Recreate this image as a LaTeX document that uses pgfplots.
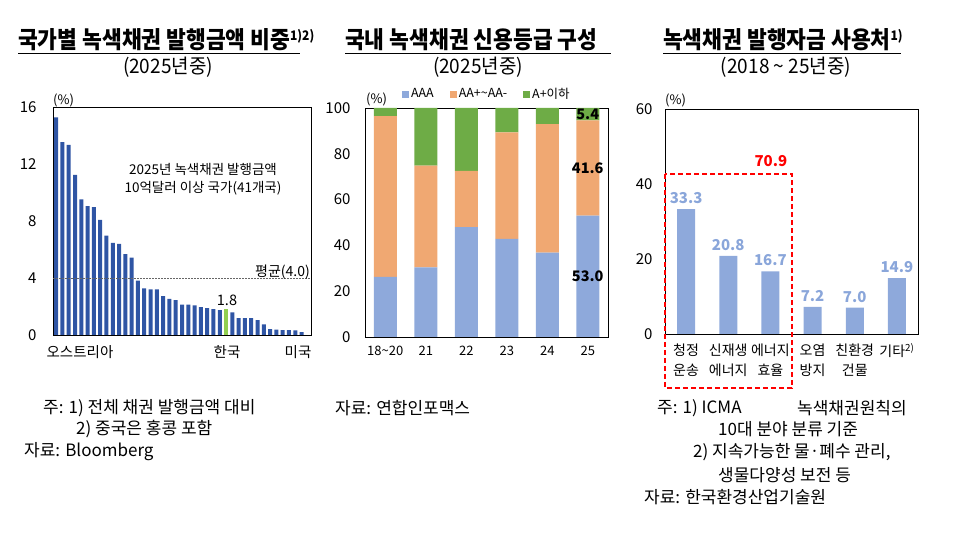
\documentclass[border=0pt]{standalone}
\usepackage{fontspec}
\setmainfont{Noto Sans CJK KR}
\usepackage{pgfplots}
\pgfplotsset{compat=1.18}
\pgfplotsset{/pgf/number format/assume math mode=true}
\definecolor{navy}{HTML}{2F55A4}
\definecolor{kgreen}{HTML}{92D050}
\definecolor{aaa}{HTML}{8EA9DB}
\definecolor{aa}{HTML}{F0A872}
\definecolor{ag}{HTML}{6EAC46}
\definecolor{lbl}{HTML}{8AA6DA}
\newcommand{\fs}[1]{\fontsize{#1}{#1}\selectfont}
\begin{document}
\begin{tikzpicture}[x=1pt,y=1pt]
\useasboundingbox (0pt,0pt) rectangle (953pt,545pt);
% ---------------- Panel 1 ----------------
\begin{axis}[at={(53pt,210pt)}, anchor=south west, scale only axis,
  width=258pt, height=228pt,
  xmin=0.5, xmax=41.5, ymin=0, ymax=16,
  ytick={0,4,8,12,16}, xtick=\empty,
  major tick length=0pt,
  axis line style={line width=0.8pt},
  yticklabel style={font=\fs{15}, xshift=-13pt},
  clip=false]
\addplot[ybar, bar width=4pt, bar shift=0pt, fill=navy, draw=none] coordinates {
 (1,15.27) (2,13.54) (3,13.35) (4,11.24) (5,9.51) (6,9.04) (7,8.97) (8,8.08)
 (9,6.98) (10,6.46) (11,6.39) (12,5.67) (13,5.43) (14,3.82) (15,3.28) (16,3.21)
 (17,3.21) (18,2.72) (19,2.53) (20,2.44) (21,2.13) (22,2.13) (23,2.08) (24,1.96)
 (25,1.89) (26,1.82) (27,1.75) (29,1.59) (30,1.19) (31,1.19) (32,1.19) (33,1.05)
 (34,0.75) (35,0.42) (36,0.38) (37,0.35) (38,0.35) (39,0.33) (40,0.2)};
\addplot[ybar, bar width=4pt, bar shift=0pt, fill=kgreen, draw=none] coordinates {(28,1.8)};
\addplot[black!60, line width=0.6pt, dash pattern=on 1.5pt off 1.5pt] coordinates {(0.5,4) (41.5,4)};
\end{axis}
\node[font=\fs{13.5}] at (203pt,376pt) {2025년 녹색채권 발행금액};
\node[font=\fs{13.5}] at (203pt,357pt) {10억달러 이상 국가(41개국)};
\node[font=\fs{14}, anchor=east, inner sep=0] at (310pt,273pt) {평균(4.0)};
\node[font=\fs{14.5}] at (227pt,245pt) {1.8};
\node[font=\fs{14.5}] at (80pt,193pt) {오스트리아};
\node[font=\fs{14.5}] at (227pt,193pt) {한국};
\node[font=\fs{14.5}] at (298pt,193pt) {미국};
\node[font=\fs{13}, anchor=west, inner sep=0] at (53pt,445pt) {(\%)};
% ---------------- Panel 2 ----------------
\begin{axis}[at={(365pt,208pt)}, anchor=south west, scale only axis,
  width=243pt, height=229pt,
  xmin=-0.5, xmax=5.5, ymin=0, ymax=100,
  ytick={0,20,40,60,80,100}, xtick={0,1,2,3,4,5},
  xticklabels={18\textasciitilde20,21,22,23,24,25},
  major tick length=0pt,
  axis line style={line width=0.8pt},
  yticklabel style={font=\fs{15}, xshift=-11pt},
  xticklabel style={font=\fs{13}, yshift=-6pt},
  ybar stacked, bar width=23pt,
  legend style={at={(0.152,1.061)}, anchor=west, draw=none, fill=none,
    font=\fs{12.5}, legend columns=3, inner sep=0pt,
    /tikz/every even column/.append style={column sep=14pt}},
  legend image code/.code={\fill[#1] (0pt,-3.5pt) rectangle (7pt,3.5pt);},
  clip=false]
\addplot[fill=aaa, draw=none] coordinates {(0,26.2) (1,30.4) (2,48.0) (3,42.8) (4,36.8) (5,53.0)};
\addplot[fill=aa, draw=none] coordinates {(0,70.3) (1,44.4) (2,24.5) (3,46.6) (4,56.2) (5,41.6)};
\addplot[fill=ag, draw=none] coordinates {(0,3.5) (1,25.2) (2,27.5) (3,10.6) (4,7.0) (5,5.4)};
\legend{AAA, AA+\textasciitilde AA-, A+이하}
\coordinate (la) at (axis cs:5,26.5);
\coordinate (lb) at (axis cs:5,73.8);
\coordinate (lc) at (axis cs:5,97.3);
\end{axis}
\node[font=\bfseries\fs{14.5}] at (la) {53.0};
\node[font=\bfseries\fs{14.5}] at (lb) {41.6};
\node[font=\bfseries\fs{14.5}] at (lc) {5.4};
\node[font=\fs{13}, anchor=west, inner sep=0] at (366pt,446pt) {(\%)};
% ---------------- Panel 3 ----------------
\begin{axis}[at={(665pt,211pt)}, anchor=south west, scale only axis,
  width=253pt, height=225pt,
  xmin=-0.5, xmax=5.5, ymin=0, ymax=60,
  ytick={0,20,40,60}, xtick={0,1,2,3,4,5},
  xticklabels={{청정\\운송},{신재생\\에너지},{에너지\\효율},{오염\\방지},{친환경\\건물},{기타\textsuperscript{2)}}},
  major tick length=0pt,
  axis line style={line width=0.8pt},
  yticklabel style={font=\fs{15}, xshift=-9pt},
  xticklabel style={font=\fontsize{14}{20}\selectfont, align=center, yshift=-6pt},
  clip=false]
\addplot[ybar, bar width=18pt, bar shift=0pt, fill=aaa, draw=none,
  nodes near coords={\pgfmathprintnumber[fixed,zerofill,precision=1]{\pgfplotspointmeta}},
  nodes near coords style={font=\bfseries\fs{15}, text=lbl, yshift=2pt}]
  coordinates {(0,33.3) (1,20.8) (2,16.7) (3,7.2) (4,7.0) (5,14.9)};
\draw[red, line width=1.6pt, dash pattern=on 5pt off 3pt] (axis cs:-0.5,42.67) rectangle (axis cs:2.51,-14.4);
\node[font=\bfseries\fs{15}, text=red] at (axis cs:2.01,46.1) {70.9};
\end{axis}
\node[font=\fs{13}, anchor=west, inner sep=0] at (665pt,445pt) {(\%)};
% ---------------- Titles ----------------
\node[anchor=base west, inner sep=0] at (18pt,496pt) {\scalebox{1}[1.1]{\bfseries\fs{21.5}국가별 녹색채권 발행금액 비중\raisebox{0.7ex}{\fs{12}1)2)}}};
\draw[line width=1pt] (18pt,491pt) -- (300pt,491pt);
\node[anchor=base west, inner sep=0] at (345pt,496pt) {\scalebox{1}[1.1]{\bfseries\fs{21.5}국내 녹색채권 신용등급 구성}};
\draw[line width=1pt] (345pt,491pt) -- (611pt,491pt);
\node[anchor=base west, inner sep=0] at (663pt,496pt) {\scalebox{1}[1.1]{\bfseries\fs{21.5}녹색채권 발행자금 사용처\raisebox{0.7ex}{\fs{12}1)}}};
\draw[line width=1pt] (663pt,491pt) -- (901pt,491pt);
\node at (168pt,478pt) {\scalebox{1}[1.05]{\fs{19}(2025년중)}};
\node at (478pt,478pt) {\scalebox{1}[1.05]{\fs{19}(2025년중)}};
\node at (786pt,478pt) {\scalebox{1}[1.05]{\fs{19}(2018 \textasciitilde{} 25년중)}};
% ---------------- Notes ----------------
\begin{scope}[every node/.style={anchor=west, inner sep=0, font=\fs{17}}]
\node at (43pt,137pt) {주: 1) 전체 채권 발행금액 대비};
\node at (76pt,116pt) {2) 중국은 홍콩 포함};
\node at (24pt,93pt) {자료: Bloomberg};
\node at (335pt,137pt) {자료: 연합인포맥스};
\node at (657pt,137pt) {주: 1) ICMA};
\node at (797pt,137pt) {녹색채권원칙의};
\node at (718pt,116pt) {10대 분야 분류 기준};
\node at (693pt,93pt) {2) 지속가능한 물·폐수 관리,};
\node at (718pt,70pt) {생물다양성 보전 등};
\node at (644pt,48pt) {자료: 한국환경산업기술원};
\end{scope}
\end{tikzpicture}
\end{document}
